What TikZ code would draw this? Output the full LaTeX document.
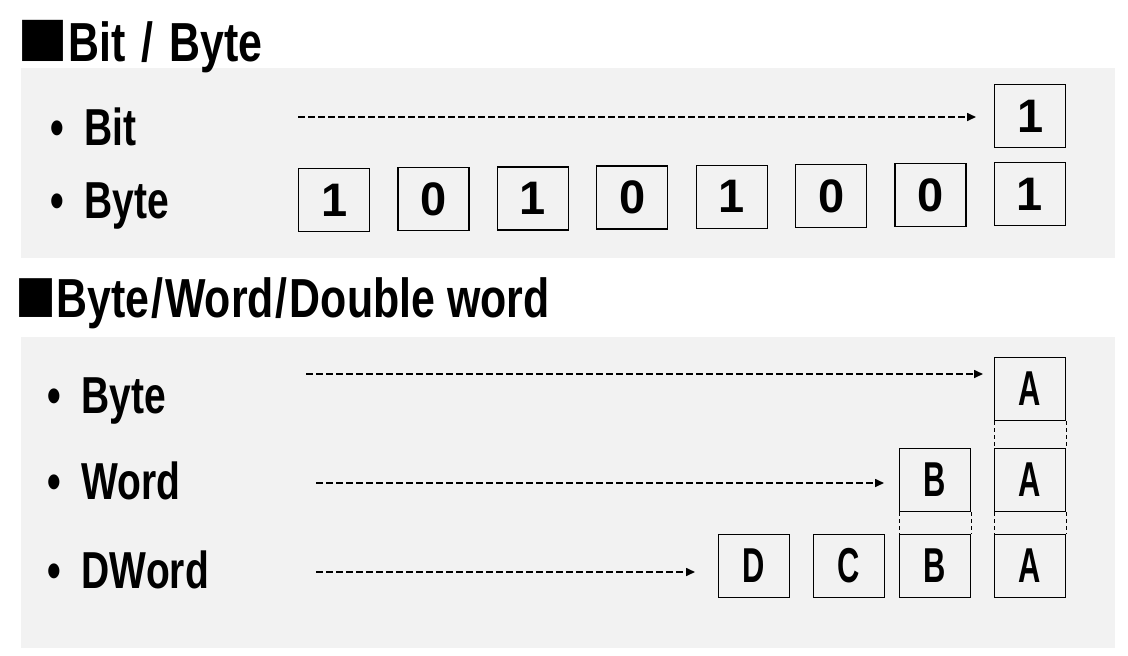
\documentclass[tikz,border=0pt]{standalone}
\usepackage{fontspec}
\setmainfont{Liberation Sans}
\newfontfamily\condfont{Liberation Sans}[FakeStretch=0.75]
\newfontfamily\titlefont{Liberation Sans}[FakeStretch=0.78]
\newfontfamily\letterfont{Liberation Sans}[FakeStretch=0.63]
\newfontfamily\cjkfont{Noto Sans CJK JP}
\usetikzlibrary{arrows.meta}
\definecolor{panelgray}{RGB}{242,242,242}
\newcommand{\blacksq}[2]{{\cjkfont\fontsize{50}{50}\selectfont\scalebox{#1}[#2]{■}}}
\begin{document}
\begin{tikzpicture}[x=1pt,y=-1pt,
  cell/.style={draw=black, line width=1.2pt, fill=panelgray, minimum width=71pt, minimum height=63pt, inner sep=0pt, anchor=north west},
  digit/.style={cell, font=\bfseries\fontsize{47}{47}\selectfont},
  letter/.style={cell, font=\letterfont\bfseries\fontsize{49}{49}\selectfont},
  label/.style={anchor=base west, inner sep=0pt, font=\condfont\bfseries\fontsize{52}{52}\selectfont},
  heading/.style={anchor=base west, inner sep=0pt, font=\titlefont\bfseries\fontsize{55}{55}\selectfont},
  flow/.style={line width=1.6pt, dash pattern=on 7pt off 3pt, -{Triangle[length=9pt,width=8pt]}},
  link/.style={line width=1pt, dash pattern=on 4pt off 3pt}]
\useasboundingbox (0,0) rectangle (1128,656);
\fill[white] (0,0) rectangle (1128,656);
% panels
\fill[panelgray] (21,68) rectangle (1115,258);
\fill[panelgray] (21,337) rectangle (1115,648);
% headings
\node[heading] (t1) at (17,61) {\raisebox{1pt}{\blacksq{1.02}{1.03}}Bit\kern16pt/\kern16pt Byte};
\node[heading] (t2) at (15,317) {\raisebox{1pt}{\blacksq{0.82}{0.97}}Byte\kern2pt/\kern2pt Word\kern2pt/\kern2pt Double word};
% section 1 labels
\node[label] (lbit) at (50,145) {•\hspace{21pt}Bit};
\node[label] (lbyte) at (50,218) {•\hspace{21pt}Byte};
% bit box
\node[digit] (bit) at (994,84) {1};
% byte boxes
\foreach \v [count=\k] in {1,0,1,0,1,0,0,1} {
  \node[digit] (b\k) at ({298+(\k-1)*99.4},{168-(\k-1)*0.85}) {\v};
}
\coordinate (s1) at (298,117);
\draw[flow, shorten >=18pt] (s1) -- (s1 -| bit.west);
% section 2 labels
\node[label] (l2byte) at (47,413) {•\hspace{21pt}Byte};
\node[label] (l2word) at (47,499) {•\hspace{21pt}Word};
\node[label] (l2dword) at (47,588) {•\hspace{21pt}DWord};
% boxes section 2
\node[letter] (a1) at (994,357) {A};
\node[letter] (wb) at (899,448) {B};
\node[letter] (wa) at (994,448) {A};
\node[letter] (dd) at (718,534) {D};
\node[letter] (dc) at (813,534) {C};
\node[letter] (db) at (899,534) {B};
\node[letter] (da) at (994,534) {A};
% arrows
\coordinate (s2) at (306,374);
\coordinate (s3) at (316,483);
\coordinate (s4) at (316,572);
\draw[flow, shorten >=11pt] (s2) -- (s2 -| a1.west);
\draw[flow, shorten >=15pt] (s3) -- (s3 -| wb.west);
\draw[flow, shorten >=23pt] (s4) -- (s4 -| dd.west);
% dashed links
\draw[link] (a1.south west) -- (wa.north west);
\draw[link] (a1.south east) -- (wa.north east);
\draw[link] (wa.south west) -- (da.north west);
\draw[link] (wa.south east) -- (da.north east);
\draw[link] (wb.south west) -- (db.north west);
\draw[link] (wb.south east) -- (db.north east);
\end{tikzpicture}
\end{document}
